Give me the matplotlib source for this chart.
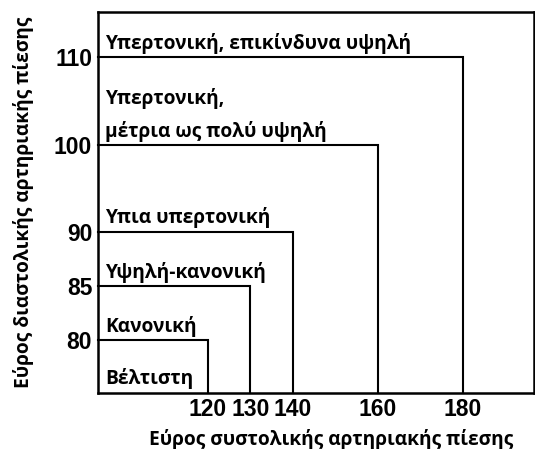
import matplotlib
matplotlib.use("Agg")
import matplotlib.pyplot as plt
import numpy as np

# blood pressure classes, lowest first
categories = ["Βέλτιστη", "Κανονική", "Υψηλή-κανονική", "Υπια υπερτονική",
              "Υπερτονική,\nμέτρια ως πολύ υψηλή", "Υπερτονική, επικίνδυνα υψηλή"]
# upper limits of every box (the last class is open ended)
systolic_limits = [120, 130, 140, 160, 180]
diastolic_limits = [80, 85, 90, 100, 110]

x_ticks = [120, 130, 140, 160, 180]
y_ticks = [80, 85, 90, 100, 110]

x_label = "Εύρος συστολικής αρτηριακής πίεσης"
y_label = "Εύρος διαστολικής αρτηριακής πίεσης"

x_min, x_max = 94.1, 196.8
y_min, y_max = 75.1, 115.2

# the diastolic axis of the original is not evenly spaced,
# so map it piecewise
y_knots = [y_min, 80, 85, 90, 100, 110, y_max]
y_spots = [0, 52.5, 106.5, 161, 247.5, 335, 380.5]


def y_fwd(v):
    return np.interp(v, y_knots, y_spots)


def y_inv(p):
    return np.interp(p, y_spots, y_knots)


greek = ["Open Sans", "DejaVu Sans"]

fig = plt.figure(figsize=(5.35, 4.49), dpi=100)
ax = fig.add_axes([0.1826, 0.1258, 0.8155, 0.8475])
ax.set_yscale("function", functions=(y_fwd, y_inv))
ax.set_xlim(x_min, x_max)
ax.set_ylim(y_min, y_max)

for s, d in zip(systolic_limits, diastolic_limits):
    ax.plot([x_min, s, s], [d, d, y_min], color="black", lw=1.5,
            solid_joinstyle="miter", clip_on=False)

for name, low in zip(categories, [y_min] + diastolic_limits):
    ax.annotate(name, xy=(x_min, low), xytext=(5.5, 2.5), textcoords="offset points",
                ha="left", va="bottom", fontsize=13.8, fontweight="bold",
                family=greek, linespacing=1.75)

for sp in ax.spines.values():
    sp.set_linewidth(1.8)

ax.set_xticks(x_ticks)
ax.set_yticks(y_ticks)
ax.set_xticklabels([str(v) for v in x_ticks])
ax.set_yticklabels([str(v) for v in y_ticks])
ax.minorticks_off()
ax.tick_params(length=0, pad=4)
for lab in ax.get_xticklabels() + ax.get_yticklabels():
    lab.set_family("Liberation Sans")
    lab.set_fontweight("bold")
    lab.set_fontsize(16.5)

ax.set_xlabel(x_label, fontsize=13.8, fontweight="bold", family=greek)
ax.set_ylabel(y_label, fontsize=13.8, fontweight="bold", family=greek)
ax.xaxis.set_label_coords(0.535, -0.095)
ax.yaxis.set_label_coords(-0.145, 0.5)

fig.savefig("out.png", dpi=100)
